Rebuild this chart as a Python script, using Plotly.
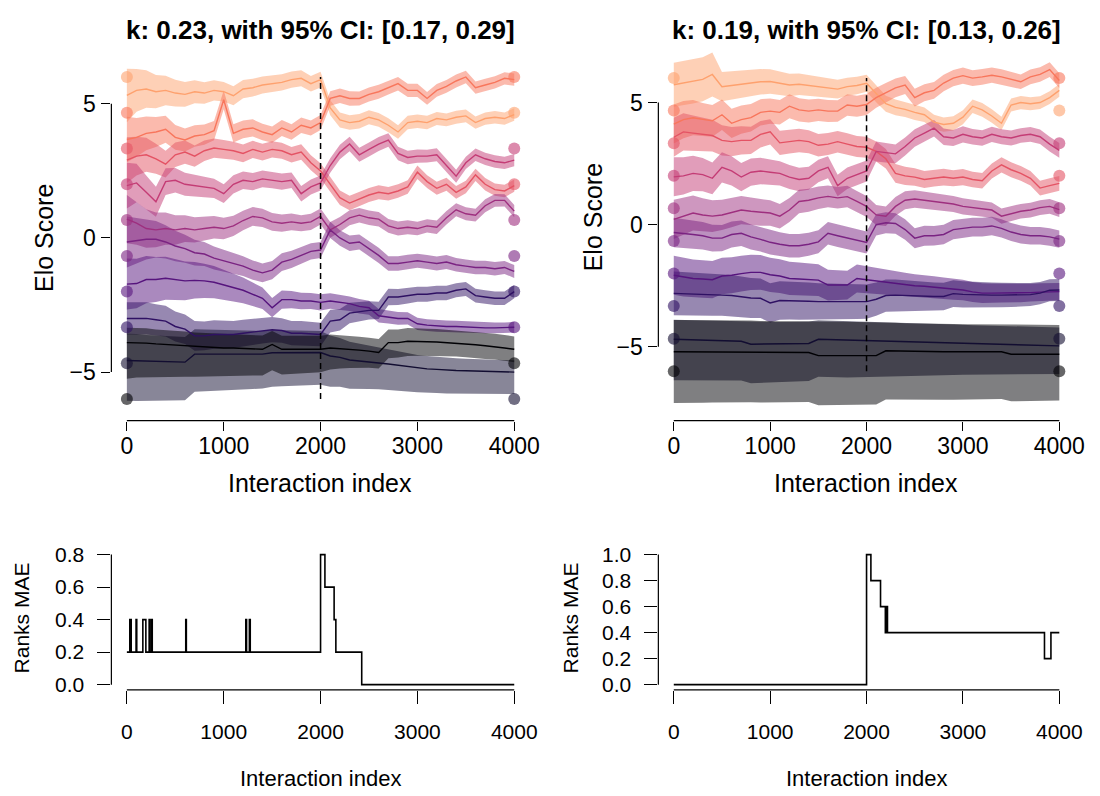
import plotly.graph_objects as go

W, H = 1100, 796

# ---------------- data ----------------
X = list(range(0, 4001, 100))
CHANGE_AT = 2000
TRUE_VALUES = [6.0, 4.67, 3.33, 2.0, 0.67, -0.67, -2.0, -3.33, -4.67, -6.0]
COLORS = ["#fea16e", "#f8765c", "#e45364", "#c43c75", "#9e2f7f",
          "#7a2382", "#56147d", "#2f1163", "#120d31", "#000004"]
TL_END_ORDER = [1, 0, 3, 2, 4, 5, 7, 6, 9, 8]
TR_END_ORDER = [1, 0, 3, 2, 4, 5, 6, 7, 8, 9]
TITLE_LEFT = "k: 0.23, with 95% CI: [0.17, 0.29]"
TITLE_RIGHT = "k: 0.19, with 95% CI: [0.13, 0.26]"
X_TICKS = [0, 1000, 2000, 3000, 4000]
ELO_TICKS = [-5, 0, 5]

# top-left panel: estimated Elo score per individual
TL_L1 = [5.31,5.5,5.55,5.45,5.5,5.4,5.35,5.45,5.4,5.5,5.45,5.3,5.55,5.6,5.7,5.75,5.8,5.9,5.95,5.75,5.9,
         4.85,4.4,4.3,4.35,4.5,4.4,4.2,3.95,4.3,4.35,4.3,4.45,4.4,4.5,4.55,4.3,4.45,4.5,4.45,4.6]
TL_L2 = [3.67,3.75,3.9,3.95,4.05,3.75,3.65,3.8,3.85,4.0,5.15,3.9,4.05,4.1,3.95,3.85,4.1,3.95,4.2,4.1,4.3,
         5.2,5.3,5.2,5.2,5.35,5.45,5.6,5.75,5.5,5.5,5.2,5.5,5.65,5.85,6.0,5.6,5.7,5.8,5.95,5.9]
TL_L3 = [2.9,3.05,3.1,2.95,2.75,3.1,3.2,3.05,3.25,3.35,3.3,3.25,3.15,3.3,3.2,3.3,3.25,3.1,3.2,2.8,2.5,
         2.0,1.5,1.3,1.45,1.6,1.7,1.65,1.75,1.9,2.45,2.1,1.85,2.0,1.7,1.9,2.35,2.0,1.8,1.75,1.95]
TL_L4 = [1.95,2.05,1.7,1.35,2.1,2.15,2.0,1.95,1.9,1.85,1.65,2.0,2.15,2.1,2.2,2.15,2.1,2.15,1.65,1.9,2.05,
         2.7,3.2,3.5,3.1,3.3,3.5,3.65,3.15,3.0,3.05,3.05,3.1,2.7,2.3,2.8,3.1,2.95,2.85,2.8,2.9]
TL_L5 = [0.7,0.55,0.35,0.3,0.35,0.3,0.35,0.3,0.35,0.4,0.35,0.45,0.65,0.8,0.75,0.6,0.55,0.6,0.55,0.6,0.8,
         0.3,0.5,0.75,0.85,0.75,0.7,0.45,0.35,0.4,0.35,0.45,0.4,0.75,1.05,0.9,0.85,1.2,1.4,1.4,1.0]
TL_L6 = [-0.15,-0.1,-0.05,-0.05,-0.15,-0.3,-0.4,-0.55,-0.6,-0.75,-0.85,-0.95,-1.05,-1.2,-1.3,-1.2,-0.9,-0.8,-0.65,-0.5,-0.45,
         0.3,0.0,-0.2,-0.15,-0.4,-0.65,-0.95,-0.95,-0.9,-0.85,-0.9,-0.95,-0.9,-1.0,-1.05,-1.1,-1.1,-1.15,-1.1,-1.25]
TL_L7 = [-1.72,-1.7,-1.55,-1.55,-1.5,-1.55,-1.6,-1.58,-1.6,-1.65,-1.75,-1.85,-1.95,-2.1,-2.25,-2.6,-2.3,-2.3,-2.35,-2.35,-2.4,
         -2.35,-2.4,-2.45,-2.55,-2.6,-2.9,-2.95,-3.0,-3.0,-3.2,-3.25,-3.28,-3.3,-3.3,-3.32,-3.33,-3.35,-3.35,-3.35,-3.33]
TL_L8 = [-3.0,-3.0,-3.0,-3.05,-3.1,-3.3,-3.4,-3.65,-3.65,-3.6,-3.6,-3.6,-3.55,-3.5,-3.45,-3.42,-3.45,-3.55,-3.55,-3.58,-3.6,
         -3.1,-3.05,-2.8,-2.75,-2.7,-2.7,-2.2,-2.2,-2.15,-2.1,-2.1,-2.05,-2.05,-1.95,-1.9,-2.15,-2.2,-2.25,-2.25,-2.0]
TL_L9 = [-4.57,-4.58,-4.6,-4.6,-4.62,-4.62,-4.63,-4.33,-4.33,-4.33,-4.33,-4.33,-4.33,-4.33,-4.33,-4.28,-4.28,-4.27,-4.27,-4.27,-4.27,
         -4.4,-4.45,-4.55,-4.58,-4.62,-4.66,-4.7,-4.75,-4.8,-4.85,-4.88,-4.9,-4.93,-4.94,-4.95,-4.96,-4.97,-4.98,-4.99,-5.0]
TL_L10 = [-3.9,-3.9,-3.92,-3.95,-3.97,-4.0,-4.02,-4.05,-4.07,-4.08,-4.1,-4.1,-4.12,-4.13,-4.15,-3.97,-4.15,-4.15,-4.15,-4.15,-4.15,
          -4.1,-4.12,-4.15,-4.18,-4.22,-4.27,-3.9,-3.9,-3.85,-3.85,-3.87,-3.88,-3.9,-3.92,-3.95,-3.98,-4.02,-4.05,-4.1,-4.15]

# top-left panel: band half-widths (upper = lower unless given separately)
TL_HW1 = [1.0,0.8,0.7,0.62,0.55,0.5,0.46,0.43,0.4,0.38,0.36,0.35,0.34,0.33,0.32,0.31,0.3,0.3,0.3,0.29,0.29,
          0.28,0.28,0.27,0.27,0.26,0.26,0.26,0.25,0.25,0.25,0.25,0.24,0.24,0.24,0.24,0.23,0.23,0.23,0.23,0.23]
TL_HW2 = [0.85,0.72,0.63,0.56,0.5,0.46,0.43,0.4,0.38,0.36,0.35,0.34,0.33,0.32,0.31,0.3,0.3,0.29,0.29,0.28,0.28,
          0.27,0.27,0.27,0.26,0.26,0.26,0.25,0.25,0.25,0.25,0.24,0.24,0.24,0.24,0.23,0.23,0.23,0.23,0.23,0.23]
TL_HW5 = [0.9,0.8,0.72,0.65,0.6,0.55,0.5,0.47,0.44,0.42,0.4,0.38,0.36,0.35,0.34,0.33,0.32,0.31,0.3,0.3,0.3,
          0.29,0.28,0.28,0.27,0.27,0.27,0.26,0.26,0.26,0.25,0.25,0.25,0.25,0.24,0.24,0.24,0.24,0.24,0.23,0.23]
TL_HW6 = [0.95,0.85,0.75,0.68,0.62,0.57,0.52,0.48,0.45,0.43,0.41,0.39,0.37,0.36,0.35,0.34,0.33,0.32,0.31,0.3,0.3,
          0.3,0.29,0.29,0.28,0.28,0.28,0.27,0.27,0.27,0.26,0.26,0.26,0.26,0.25,0.25,0.25,0.25,0.25,0.24,0.24]
TL_HW7 = [0.95,0.92,0.88,0.84,0.8,0.76,0.72,0.68,0.64,0.6,0.56,0.52,0.48,0.44,0.4,0.36,0.34,0.32,0.31,0.3,0.3,
          0.29,0.28,0.27,0.27,0.26,0.25,0.24,0.24,0.23,0.23,0.22,0.22,0.22,0.21,0.21,0.21,0.2,0.2,0.2,0.2]
TL_HW8 = [0.6,0.6,0.6,0.58,0.57,0.56,0.55,0.55,0.54,0.53,0.52,0.5,0.5,0.48,0.48,0.47,0.46,0.45,0.45,0.44,0.44,
          0.42,0.4,0.38,0.36,0.34,0.32,0.31,0.3,0.29,0.28,0.28,0.27,0.27,0.26,0.26,0.26,0.25,0.25,0.25,0.25]
TL_UP9 = [1.0,1.0,0.98,0.97,0.96,0.95,0.94,0.93,0.92,0.91,0.9,0.89,0.88,0.87,0.86,0.85,0.84,0.83,0.82,0.81,0.8,
          0.76,0.72,0.68,0.64,0.6,0.57,0.54,0.52,0.5,0.49,0.48,0.47,0.46,0.46,0.45,0.45,0.45,0.44,0.44,0.44]
TL_LO9 = [1.5,1.5,1.48,1.47,1.45,1.44,1.42,1.4,1.38,1.36,1.35,1.33,1.32,1.3,1.28,1.27,1.25,1.24,1.22,1.21,1.2,
          1.15,1.1,1.07,1.04,1.01,0.98,0.96,0.94,0.92,0.9,0.89,0.88,0.87,0.86,0.85,0.84,0.84,0.83,0.83,0.82]
TL_UP10 = [0.55,0.55,0.55,0.54,0.54,0.54,0.53,0.53,0.53,0.52,0.52,0.52,0.51,0.51,0.51,0.5,0.5,0.5,0.5,0.5,0.5,
           0.5,0.5,0.5,0.5,0.5,0.5,0.49,0.49,0.49,0.49,0.49,0.49,0.48,0.48,0.48,0.48,0.48,0.48,0.48,0.48]
TL_LO10 = [1.35,1.3,1.27,1.24,1.21,1.18,1.15,1.12,1.1,1.08,1.06,1.04,1.02,1.0,0.98,0.96,0.94,0.92,0.9,0.88,0.86,
           0.8,0.75,0.7,0.66,0.62,0.6,0.58,0.56,0.55,0.54,0.53,0.52,0.51,0.5,0.5,0.49,0.49,0.48,0.48,0.48]

# top-right panel
TR_L1 = [5.73,5.8,5.86,5.95,6.15,5.65,5.7,5.75,5.8,5.85,5.86,5.8,5.72,5.75,5.7,5.65,5.6,5.55,5.65,5.7,5.79,
         5.35,4.95,4.8,4.72,4.6,4.5,4.2,4.1,4.15,4.4,4.85,4.7,4.45,4.15,4.9,5.0,4.95,5.0,5.2,5.5]
TR_L2 = [4.12,4.3,4.38,4.3,4.25,4.5,4.15,4.3,4.38,4.6,4.65,4.6,4.85,4.7,4.65,4.7,4.65,4.65,4.9,4.85,4.92,
         5.2,5.4,5.6,5.72,5.2,5.4,5.5,5.8,6.0,6.1,6.0,6.05,6.12,6.05,5.95,5.85,6.05,6.15,6.35,5.9]
TR_L3 = [3.58,3.8,3.75,3.7,3.65,3.45,3.4,3.45,3.45,3.7,3.8,3.35,3.4,3.45,3.4,3.25,3.3,3.4,3.3,3.2,3.17,
         3.0,2.7,2.1,2.0,1.95,1.85,1.9,1.95,1.9,1.95,1.85,1.8,2.2,2.45,2.25,2.1,1.9,1.5,1.6,1.69]
TR_L4 = [1.96,2.0,2.1,2.05,1.9,2.35,2.2,1.95,2.15,2.2,2.15,2.1,1.95,1.85,1.9,2.2,2.35,1.6,1.9,2.05,2.2,
         3.0,2.95,2.9,3.2,3.55,3.75,3.95,3.6,3.55,3.7,3.6,3.55,3.7,3.6,3.55,3.65,3.7,3.6,3.3,3.04]
TR_L5 = [0.22,0.35,0.48,0.4,0.35,0.4,0.5,0.6,0.55,0.5,0.48,0.35,0.6,0.95,1.0,1.1,1.16,1.1,1.15,0.95,0.75,
         0.4,0.35,0.75,1.0,1.05,1.0,0.95,0.9,0.85,0.75,0.7,0.65,0.6,0.35,0.45,0.55,0.6,0.7,0.75,0.62]
TR_L6 = [-0.32,-0.35,-0.4,-0.45,-0.55,-0.55,-0.4,-0.35,-0.5,-0.6,-0.72,-0.8,-0.86,-0.86,-0.8,-0.7,-0.35,-0.45,-0.55,-0.65,-0.73,
         0.0,0.08,0.05,-0.2,-0.55,-0.45,-0.45,-0.4,-0.2,-0.15,-0.1,-0.1,-0.05,-0.15,-0.3,-0.4,-0.45,-0.45,-0.5,-0.59]
TR_L7 = [-2.07,-2.15,-2.2,-2.22,-2.25,-2.1,-2.07,-2.0,-1.95,-1.95,-2.05,-2.1,-2.2,-2.22,-2.25,-2.27,-2.47,-2.47,-2.47,-2.2,-2.25,
         -2.32,-2.36,-2.4,-2.45,-2.5,-2.52,-2.56,-2.6,-2.64,-2.67,-2.75,-2.8,-2.8,-2.8,-2.81,-2.8,-2.78,-2.76,-2.75,-2.74]
TR_L8 = [-2.81,-2.82,-2.84,-2.85,-2.87,-2.88,-2.9,-2.95,-3.0,-3.01,-3.2,-3.1,-3.1,-3.12,-3.13,-3.15,-3.15,-3.15,-3.15,-3.15,-3.15,
         -3.05,-2.9,-2.88,-2.9,-2.92,-2.94,-2.94,-2.94,-2.82,-2.85,-2.87,-2.88,-2.88,-2.88,-2.88,-2.88,-2.86,-2.8,-2.68,-2.67]
TR_L9 = [-4.69,-4.7,-4.71,-4.72,-4.74,-4.75,-4.76,-4.77,-4.89,-4.89,-4.88,-4.88,-4.87,-4.87,-4.86,-4.69,-4.7,-4.72,-4.74,-4.75,-4.76,
         -4.77,-4.78,-4.79,-4.8,-4.81,-4.82,-4.83,-4.83,-4.84,-4.85,-4.87,-4.88,-4.89,-4.9,-4.91,-4.92,-4.93,-4.94,-4.95,-4.96]
TR_L10 = [-5.2,-5.2,-5.2,-5.2,-5.2,-5.21,-5.21,-5.21,-5.21,-5.22,-5.22,-5.22,-5.22,-5.23,-5.23,-5.36,-5.36,-5.36,-5.36,-5.36,-5.36,
          -5.36,-5.16,-5.17,-5.18,-5.18,-5.19,-5.19,-5.2,-5.2,-5.2,-5.2,-5.2,-5.2,-5.2,-5.3,-5.3,-5.3,-5.3,-5.3,-5.3]

TR_HW1 = [0.9,0.9,0.9,0.9,0.9,0.6,0.58,0.56,0.54,0.52,0.5,0.48,0.46,0.44,0.42,0.4,0.39,0.38,0.37,0.36,0.35,
          0.34,0.33,0.32,0.31,0.31,0.3,0.3,0.29,0.29,0.29,0.28,0.28,0.28,0.27,0.27,0.27,0.27,0.26,0.26,0.26]
TR_HW2 = [0.8,0.76,0.72,0.68,0.65,0.62,0.6,0.58,0.56,0.54,0.52,0.5,0.49,0.48,0.47,0.46,0.45,0.44,0.44,0.43,0.43,
          0.41,0.4,0.38,0.37,0.36,0.35,0.34,0.34,0.33,0.33,0.32,0.32,0.31,0.31,0.31,0.3,0.3,0.3,0.3,0.3]
TR_HW6 = [0.6,0.58,0.57,0.56,0.55,0.54,0.53,0.52,0.51,0.5,0.5,0.49,0.48,0.48,0.47,0.47,0.46,0.46,0.45,0.45,0.45,
          0.44,0.43,0.42,0.42,0.41,0.41,0.4,0.4,0.39,0.39,0.38,0.38,0.38,0.37,0.37,0.37,0.36,0.36,0.36,0.35]
TR_HW7 = [0.8,0.79,0.78,0.77,0.76,0.75,0.74,0.73,0.72,0.71,0.7,0.69,0.68,0.67,0.66,0.65,0.63,0.61,0.59,0.57,0.55,
          0.53,0.51,0.5,0.48,0.47,0.46,0.45,0.44,0.43,0.42,0.41,0.4,0.39,0.38,0.38,0.37,0.36,0.36,0.35,0.35]
TR_HW8 = [0.9,0.89,0.88,0.87,0.86,0.85,0.84,0.83,0.82,0.81,0.8,0.79,0.78,0.77,0.76,0.75,0.74,0.73,0.72,0.71,0.7,
          0.68,0.66,0.64,0.62,0.6,0.58,0.57,0.56,0.55,0.54,0.53,0.52,0.51,0.5,0.49,0.48,0.47,0.46,0.45,0.45]
TR_UP9 = [0.8,0.8,0.8,0.8,0.8,0.8,0.8,0.8,0.9,0.9,0.9,0.9,0.9,0.9,0.9,0.78,0.78,0.78,0.78,0.78,0.78,
          0.78,0.78,0.78,0.77,0.77,0.77,0.77,0.77,0.77,0.76,0.76,0.76,0.76,0.76,0.76,0.75,0.75,0.75,0.75,0.75]
TR_LO9 = [1.68,1.67,1.66,1.65,1.64,1.63,1.62,1.61,1.6,1.59,1.58,1.57,1.56,1.55,1.54,1.53,1.52,1.52,1.51,1.5,1.5,
          1.47,1.45,1.43,1.41,1.39,1.37,1.35,1.33,1.31,1.29,1.27,1.25,1.23,1.21,1.2,1.19,1.18,1.17,1.16,1.15]
TR_UP10 = [1.3,1.3,1.3,1.3,1.3,1.3,1.29,1.29,1.29,1.28,1.28,1.28,1.27,1.27,1.27,1.4,1.4,1.39,1.39,1.38,1.38,
           1.37,1.16,1.16,1.15,1.15,1.15,1.14,1.14,1.14,1.13,1.13,1.13,1.12,1.12,1.2,1.2,1.2,1.2,1.2,1.2]
TR_LO10 = [2.1,2.1,2.09,2.09,2.08,2.08,2.07,2.07,2.06,2.06,2.05,2.05,2.04,2.04,2.03,2.03,2.02,2.02,2.01,2.01,2.0,
           2.0,1.99,1.99,1.98,1.98,1.97,1.97,1.96,1.96,1.95,1.95,1.94,1.94,1.93,1.93,1.92,1.92,1.91,1.91,1.9]

# bottom panels: ranks mean absolute error (step changes)
MAE_L_X = [0, 30, 45, 95, 102, 165, 196, 230, 238, 255, 262, 608, 614, 1228, 1236, 1265, 1274,
           2000, 2045, 2140, 2158, 2425, 4000]
MAE_L_Y = [0.2, 0.4, 0.2, 0.4, 0.2, 0.4, 0.2, 0.4, 0.2, 0.4, 0.2, 0.4, 0.2, 0.4, 0.2, 0.4, 0.2,
           0.8, 0.6, 0.4, 0.2, 0.0, 0.0]
MAE_R_X = [0, 2000, 2045, 2145, 2195, 2203, 2217, 3846, 3913, 4000]
MAE_R_Y = [0.0, 1.0, 0.8, 0.6, 0.4, 0.6, 0.4, 0.2, 0.4, 0.4]
MAE_L_TICKS = [0.0, 0.2, 0.4, 0.6, 0.8]
MAE_R_TICKS = [0.0, 0.2, 0.4, 0.6, 0.8, 1.0]

TL_MIDS = [TL_L1, TL_L2, TL_L3, TL_L4, TL_L5, TL_L6, TL_L7, TL_L8, TL_L9, TL_L10]
TL_UPS = [TL_HW1, TL_HW2, TL_HW2, TL_HW2, TL_HW5, TL_HW6, TL_HW7, TL_HW8, TL_UP9, TL_UP10]
TL_LOS = [TL_HW1, TL_HW2, TL_HW2, TL_HW2, TL_HW5, TL_HW6, TL_HW7, TL_HW8, TL_LO9, TL_LO10]
TR_MIDS = [TR_L1, TR_L2, TR_L3, TR_L4, TR_L5, TR_L6, TR_L7, TR_L8, TR_L9, TR_L10]
TR_UPS = [TR_HW1, TR_HW2, TR_HW2, TR_HW2, TR_HW2, TR_HW6, TR_HW7, TR_HW8, TR_UP9, TR_UP10]
TR_LOS = [TR_HW1, TR_HW2, TR_HW2, TR_HW2, TR_HW2, TR_HW6, TR_HW7, TR_HW8, TR_LO9, TR_LO10]

# ---------------- helpers ----------------
FONT = "Liberation Sans, Arial, Helvetica, sans-serif"


def rgba(hx, a):
    hx = hx.lstrip("#")
    r, g, b = int(hx[0:2], 16), int(hx[2:4], 16), int(hx[4:6], 16)
    return f"rgba({r},{g},{b},{a})"


def px_x(p):
    return p / W


def px_y(p):
    return 1 - p / H


fig = go.Figure()


def add_elo_panel(mids, ups, los, end_order, xa, ya):
    for mid, up, lo, col in zip(mids, ups, los, COLORS):
        upper = [m + h for m, h in zip(mid, up)]
        lower = [m - h for m, h in zip(mid, lo)]
        fig.add_trace(go.Scatter(
            x=X + X[::-1], y=upper + lower[::-1], fill="toself", mode="lines",
            line=dict(width=0), fillcolor=rgba(col, 0.5), hoverinfo="skip",
            showlegend=False, xaxis=xa, yaxis=ya))
    for mid, col in zip(mids, COLORS):
        fig.add_trace(go.Scatter(
            x=X, y=mid, mode="lines", line=dict(color=col, width=1.4),
            showlegend=False, xaxis=xa, yaxis=ya))
    fig.add_trace(go.Scatter(
        x=[X[0]] * len(TRUE_VALUES), y=TRUE_VALUES, mode="markers",
        marker=dict(size=12, color=[rgba(c, 0.6) for c in COLORS]),
        showlegend=False, xaxis=xa, yaxis=ya))
    fig.add_trace(go.Scatter(
        x=[X[-1]] * len(TRUE_VALUES), y=TRUE_VALUES, mode="markers",
        marker=dict(size=12, color=[rgba(COLORS[i], 0.6) for i in end_order]),
        showlegend=False, xaxis=xa, yaxis=ya))
    fig.add_trace(go.Scatter(
        x=[CHANGE_AT, CHANGE_AT], y=[min(TRUE_VALUES), max(TRUE_VALUES)], mode="lines",
        line=dict(color="black", width=1.5, dash="6px,4px"),
        showlegend=False, xaxis=xa, yaxis=ya))


add_elo_panel(TL_MIDS, TL_UPS, TL_LOS, TL_END_ORDER, "x", "y")
add_elo_panel(TR_MIDS, TR_UPS, TR_LOS, TR_END_ORDER, "x2", "y2")

fig.add_trace(go.Scatter(x=MAE_L_X, y=MAE_L_Y, mode="lines", line=dict(color="black", width=1.6, shape="hv"),
                         showlegend=False, xaxis="x3", yaxis="y3"))
fig.add_trace(go.Scatter(x=MAE_R_X, y=MAE_R_Y, mode="lines", line=dict(color="black", width=1.6, shape="hv"),
                         showlegend=False, xaxis="x4", yaxis="y4"))

# ---------------- layout (page pixel positions) ----------------
LEFT_X = (112.4, 534.6)
RIGHT_X = (664.4, 1084.6)
TOP_Y = (38, 421)
BOT_Y = (551.7, 694.3)
XR = [-160, 4160]

panels = [
    ("x", "y", LEFT_X, TOP_Y, [-6.81, 7.25], ELO_TICKS, ["\u22125", "0", "5"], 23, 9, -4, 1),
    ("x2", "y2", RIGHT_X, TOP_Y, [-8.02, 7.42], ELO_TICKS, ["\u22125", "0", "5"], 23, 9, -4, 1),
    ("x3", "y3", LEFT_X, BOT_Y, [-0.032, 0.832], MAE_L_TICKS, [f"{v:.1f}" for v in MAE_L_TICKS], 21, 13, 10, 9),
    ("x4", "y4", RIGHT_X, BOT_Y, [-0.04, 1.04], MAE_R_TICKS, [f"{v:.1f}" for v in MAE_R_TICKS], 21, 13, 10, 9),
]

shapes = []
layout_axes = {}
for xa, ya, xd, yd, yr, yt, ytt, fs, tl, xstd, ystd in panels:
    xn = "xaxis" + xa[1:]
    yn = "yaxis" + ya[1:]
    layout_axes[xn] = dict(domain=[px_x(xd[0]), px_x(xd[1])], range=XR, anchor=ya, showgrid=False,
                           zeroline=False, showline=False, ticks="outside", ticklen=tl, tickwidth=1.2,
                           tickcolor="black", tickvals=X_TICKS, ticktext=[str(v) for v in X_TICKS],
                           tickfont=dict(family=FONT, size=fs, color="black"), ticklabelstandoff=xstd,
                           fixedrange=True)
    layout_axes[yn] = dict(domain=[px_y(yd[1]), px_y(yd[0])], range=yr, anchor=xa, showgrid=False,
                           zeroline=False, showline=False, ticks="outside", ticklen=tl, tickwidth=1.2,
                           tickcolor="black", tickvals=yt, ticktext=ytt, tickangle=0,
                           tickfont=dict(family=FONT, size=fs, color="black"), ticklabelstandoff=ystd,
                           fixedrange=True)
    # R-style axis lines spanning first to last tick
    shapes.append(dict(type="line", xref="paper", yref=ya, x0=px_x(xd[0]), x1=px_x(xd[0]),
                       y0=yt[0], y1=yt[-1], line=dict(color="black", width=1.2)))
    shapes.append(dict(type="line", xref=xa, yref="paper", x0=X_TICKS[0], x1=X_TICKS[-1],
                       y0=px_y(yd[1]), y1=px_y(yd[1]), line=dict(color="black", width=1.2)))


def ann(text, xp, yp, size, angle=0):
    return dict(text=text, x=px_x(xp), y=px_y(yp), xref="paper", yref="paper", showarrow=False,
                xanchor="center", yanchor="middle", textangle=angle,
                font=dict(family=FONT, size=size, color="black"))


annotations = [
    ann("<b>" + TITLE_LEFT + "</b>", 323, 24, 26),
    ann("<b>" + TITLE_RIGHT + "</b>", 874, 24, 26),
    ann("Interaction index", 323, 484, 25),
    ann("Interaction index", 874, 484, 25),
    ann("Elo Score", 45, 236, 25, -90),
    ann("Elo Score", 598, 215, 25, -90),
    ann("Ranks MAE", 22, 621, 21, -90),
    ann("Ranks MAE", 576, 621, 21, -90),
    ann("Interaction index", 323, 784, 22),
    ann("Interaction index", 874, 784, 22),
]

fig.update_layout(width=W, height=H, margin=dict(l=0, r=0, t=0, b=0), autosize=False,
                  paper_bgcolor="white", plot_bgcolor="white", showlegend=False, hovermode=False,
                  shapes=shapes, annotations=annotations, **layout_axes)

fig.write_html("out.html", config={"displayModeBar": False},
               post_script="document.body.style.margin='0px';document.body.style.overflow='hidden';")
